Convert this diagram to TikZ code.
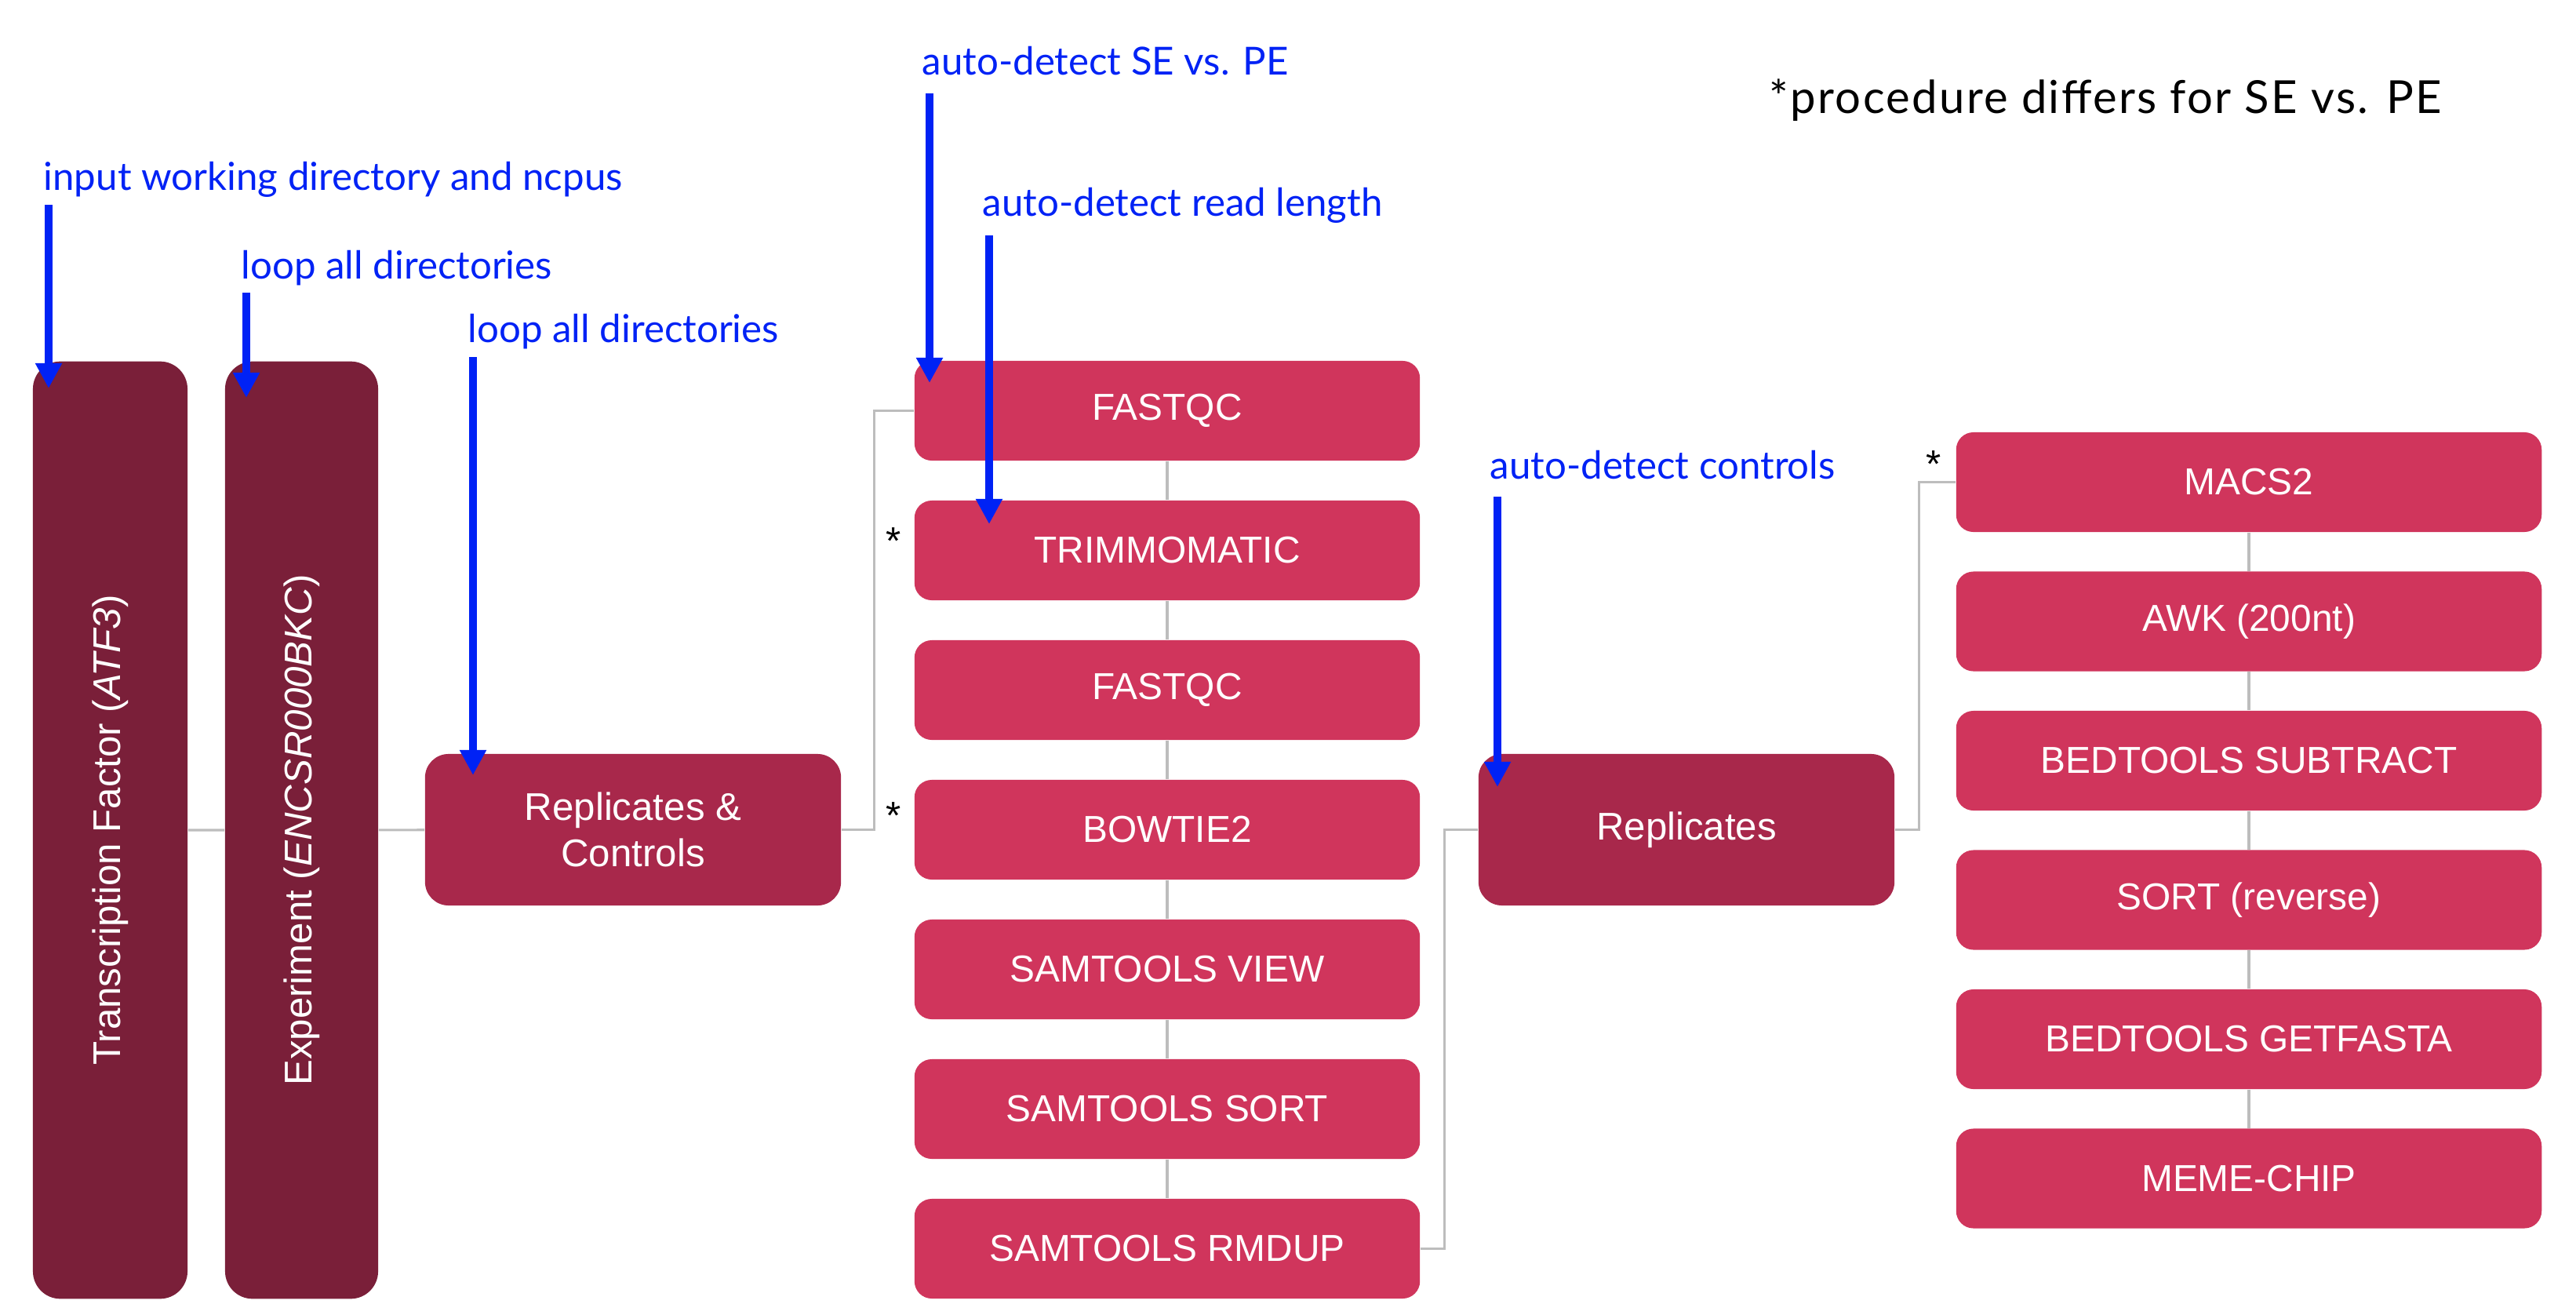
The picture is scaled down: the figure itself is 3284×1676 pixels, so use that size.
\documentclass[tikz,border=0pt]{standalone}
\usepackage{fontspec}
\setmainfont{Liberation Sans}
\newfontfamily\notefont{Lato}
\newfontfamily\keyfont[LetterSpace=4]{Lato}
\usetikzlibrary{arrows.meta}

\definecolor{darkwine}{HTML}{7A1F39}
\definecolor{midwine}{HTML}{A8284B}
\definecolor{rosered}{HTML}{D0355C}
\definecolor{noteblue}{HTML}{0022F5}
\definecolor{linegray}{HTML}{BDBDBD}

\begin{document}
\begin{tikzpicture}[x=0.01cm,y=-0.01cm,
	outer box/.style={rounded corners=0.35cm,fill=darkwine,text=white,inner sep=0pt,rotate=90,minimum width=11.94cm,font=\fontsize{14}{17}\selectfont},
	group box/.style={rounded corners=0.3cm,fill=midwine,text=white,inner sep=0pt,align=center,minimum width=5.3cm,minimum height=1.93cm,font=\fontsize{14}{17}\selectfont},
	tool box/.style={rounded corners=0.22cm,fill=rosered,text=white,inner sep=0pt,minimum height=1.27cm,font=\fontsize{13.6}{16}\selectfont},
	note/.style={anchor=base west,inner sep=0pt,text=noteblue,font=\notefont\fontsize{14}{17}\selectfont},
	note arrow/.style={draw=noteblue,line width=0.1cm,-{Triangle[length=0.32cm,width=0.32cm]}},
	link/.style={draw=linegray,line width=0.9pt},
	star/.style={anchor=base,inner sep=0pt,font=\fontsize{14}{17}\selectfont}]
			\useasboundingbox (0,0) rectangle (3284,1676);
			
			% left: outer loops
			\node(tf) at (140.5,1058)[outer box,minimum height=1.97cm]{Transcription Factor (\textit{ATF3})};
			\node(exp) at (384.5,1058)[outer box,minimum height=1.95cm]{Experiment (\textit{ENCSR000BKC})};
			\node(rc) at (807,1057.5)[group box]{Replicates \&\\Controls};
			
			% per replicate tools
			\node(fq1) at (1488,523.5)[tool box,minimum width=6.44cm]{FASTQC};
			\node(trim) at (1488,701.5)[tool box,minimum width=6.44cm]{TRIMMOMATIC};
			\node(fq2) at (1488,879.5)[tool box,minimum width=6.44cm]{FASTQC};
			\node(bt2) at (1488,1057.5)[tool box,minimum width=6.44cm]{BOWTIE2};
			\node(view) at (1488,1235.5)[tool box,minimum width=6.44cm]{SAMTOOLS VIEW};
			\node(sort) at (1488,1413.5)[tool box,minimum width=6.44cm]{SAMTOOLS SORT};
			\node(rmdup) at (1488,1591.5)[tool box,minimum width=6.44cm]{SAMTOOLS RMDUP};
			
			\node(rep) at (2150,1057.5)[group box]{Replicates};
			
			% peak calling and motifs
			\node(macs) at (2867,614.5)[tool box,minimum width=7.46cm]{MACS2};
			\node(awk) at (2867,792)[tool box,minimum width=7.46cm]{AWK (200nt)};
			\node(sub) at (2867,969.5)[tool box,minimum width=7.46cm]{BEDTOOLS SUBTRACT};
			\node(rsort) at (2867,1147)[tool box,minimum width=7.46cm]{SORT (reverse)};
			\node(getfa) at (2867,1324.5)[tool box,minimum width=7.46cm]{BEDTOOLS GETFASTA};
			\node(meme) at (2867,1502)[tool box,minimum width=7.46cm]{MEME-CHIP};
			
			\draw[link] (tf) to (exp) to (rc);
			\draw[link] (rc.east) -- ++(42,0) |- (fq1.west);
			\draw[link] (fq1) to (trim) to (fq2) to (bt2) to (view) to (sort) to (rmdup);
			\draw[link] (rmdup.east) -- ++(31,0) |- (rep.west);
			\draw[link] (rep.east) -- ++(31,0) |- (macs.west);
			\draw[link] (macs) to (awk) to (sub) to (rsort) to (getfa) to (meme);
			
			\node(st1) at (1139,706)[star]{*};
			\node(st2) at (1139,1056)[star]{*};
			\node(st3) at (2465,608)[star]{*};
			
			% notes
			\node(n1) at (55,243)[note]{input working directory and ncpus};
			\node(n2) at (307,355)[note]{loop all directories};
			\node(n3) at (596,436)[note]{loop all directories};
			\node(n4) at (1175,96)[note]{auto-detect SE vs. PE};
			\node(n5) at (1252,276)[note]{auto-detect read length};
			\node(n6) at (1899,610)[note]{auto-detect controls};
			\node(key) at (2255,145)[note,text=black,font=\keyfont\fontsize{16.5}{19}\selectfont]{*procedure differs for SE vs. PE};
			
			\coordinate(a1) at (62,261);   \coordinate(b1) at (62,495);
			\coordinate(a2) at (314,373);  \coordinate(b2) at (314,507);
			\coordinate(a3) at (603,455);  \coordinate(b3) at (603,988);
			\coordinate(a4) at (1185,119); \coordinate(b4) at (1185,488);
			\coordinate(a5) at (1261,300); \coordinate(b5) at (1261,668);
			\coordinate(a6) at (1909,633); \coordinate(b6) at (1909,1003);
			\draw[note arrow] (a1) to (b1);
			\draw[note arrow] (a2) to (b2);
			\draw[note arrow] (a3) to (b3);
			\draw[note arrow] (a4) to (b4);
			\draw[note arrow] (a5) to (b5);
			\draw[note arrow] (a6) to (b6);
		\end{tikzpicture}
\end{document}
